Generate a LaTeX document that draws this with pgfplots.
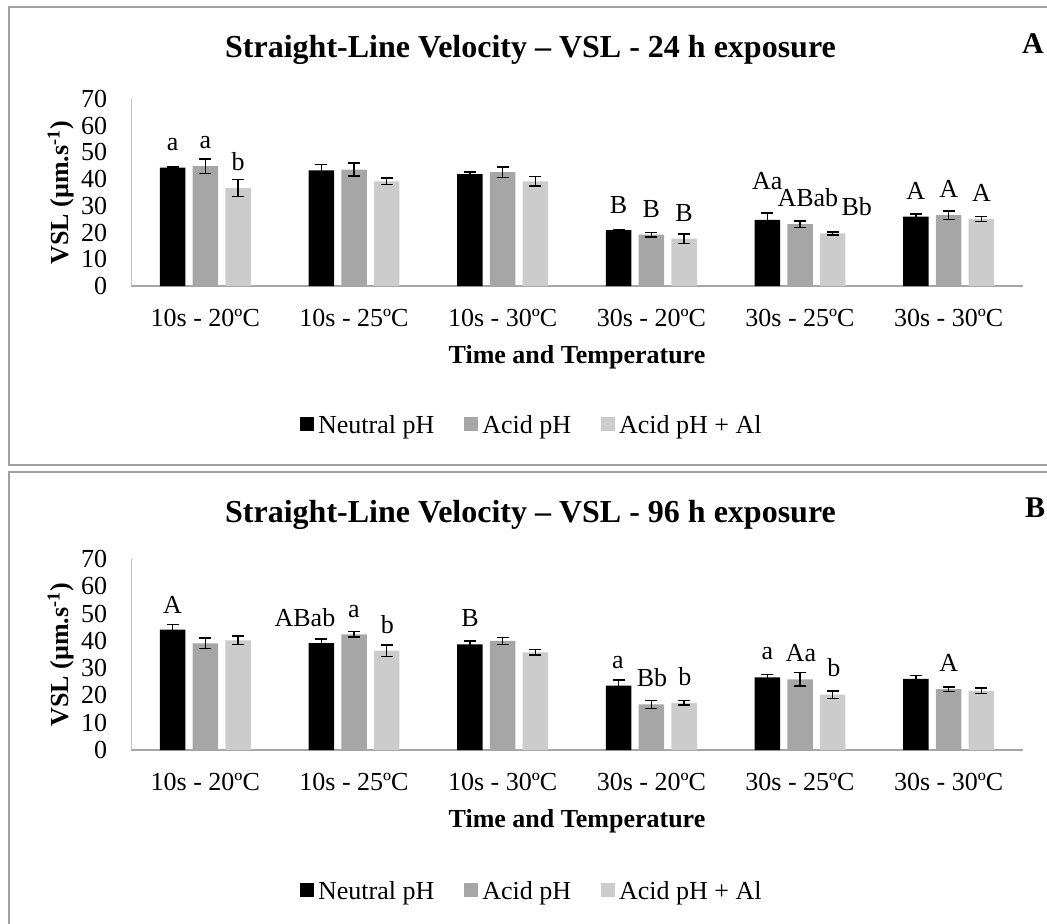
\documentclass[border=0pt]{standalone}
\usepackage{fontspec}
\setmainfont{Liberation Serif}
\usepackage{pgfplots}
\pgfplotsset{compat=1.18}
\definecolor{acid}{HTML}{A6A6A6}
\definecolor{acidal}{HTML}{CCCCCC}
\definecolor{framegray}{HTML}{A0A0A0}
\definecolor{axgray}{HTML}{A6A6A6}
\newcommand{\fs}{\fontsize{13}{15}\selectfont}
\pgfplotsset{
  sq legend/.style={legend image code/.code={\fill[##1] (0pt,-2.5pt) rectangle (7pt,4.5pt);}},
  barbase/.style={ybar, bar shift=0pt, bar width=12.75pt, draw=none, sq legend,
    error bars/y dir=both, error bars/y explicit,
    error bars/error bar style={black, line width=0.7pt},
    error bars/error mark options={black, rotate=90, mark size=3pt, line width=0.7pt}},
  vsl/.style={
    scale only axis, width=446pt,
    xmin=-0.5, xmax=5.5, ymin=0, ymax=70,
    axis lines=left, axis line style={-},
    x axis line style={draw=axgray, line width=0.7pt},
    y axis line style={draw=axgray!70, line width=0.5pt},
    xtick={0,1,2,3,4,5},
    xticklabels={10s - 20ºC, 10s - 25ºC, 10s - 30ºC, 30s - 20ºC, 30s - 25ºC, 30s - 30ºC},
    ytick={0,10,...,70},
    major tick length=0pt,
    tick label style={font=\fs},
    /pgf/number format/assume math mode=true,
    yticklabel style={anchor=east, inner sep=0pt, xshift=-11.75pt},
    xticklabel style={anchor=base, inner sep=0pt, yshift=-20pt},
    xlabel={Time and Temperature},
    ylabel={VSL (µm.s\textsuperscript{-1})},
    label style={font=\fs\bfseries},
    legend columns=3,
    legend style={draw=none, fill=none, font=\fs,
      /tikz/every even column/.append style={column sep=13pt}},
    clip=false,
  },
}
\begin{document}
\begin{tikzpicture}
\useasboundingbox (0,0) rectangle (523.5pt,-461.5pt);
% panel frames
\draw[framegray, line width=0.75pt] (540pt,-3.5pt) -- (4.5pt,-3.5pt) -- (4.5pt,-232.5pt) -- (540pt,-232.5pt);
\draw[framegray, line width=0.75pt] (540pt,-236pt) -- (4.5pt,-236pt) -- (4.5pt,-470pt);
% titles
\node[anchor=base, font=\fontsize{16}{19}\selectfont\bfseries] at (265.25pt,-28.5pt) {Straight-Line Velocity – VSL - 24 h exposure};
\node[anchor=base, font=\fontsize{15}{18}\selectfont\bfseries] at (516.5pt,-26.5pt) {A};
\node[anchor=base, font=\fontsize{16}{19}\selectfont\bfseries] at (265.25pt,-261pt) {Straight-Line Velocity – VSL - 96 h exposure};
\node[anchor=base, font=\fontsize{15}{18}\selectfont\bfseries] at (517.5pt,-258.5pt) {B};

% ---------- Panel A ----------
\begin{axis}[vsl, height=93.5pt, at={(65.5pt,-143pt)}, anchor=south west,
  xlabel style={at={(axis description cs:0.5,-0.417)}, anchor=base},
  ylabel style={at={(axis description cs:-0.0702,0.5)}, anchor=base},
  legend style={at={(axis description cs:0.4505,-0.749)}, anchor=center}]
\addplot[fill=black, barbase] coordinates {
  (-0.22,44.3) +- (0,0.3)
  (0.78,43.3) +- (0,2.25)
  (1.78,41.9) +- (0,0.8)
  (2.78,20.9) +- (0,0.3)
  (3.78,24.8) +- (0,2.6)
  (4.78,26.0) +- (0,0.9)
};
\addplot[fill=acid, barbase] coordinates {
  (0,44.9) +- (0,2.7)
  (1,43.6) +- (0,2.4)
  (2,42.6) +- (0,2.0)
  (3,19.2) +- (0,0.8)
  (4,23.2) +- (0,1.2)
  (5,26.5) +- (0,1.55)
};
\addplot[fill=acidal, barbase] coordinates {
  (0.22,36.7) +- (0,3.25)
  (1.22,39.2) +- (0,1.25)
  (2.22,39.2) +- (0,1.8)
  (3.22,17.7) +- (0,1.7)
  (4.22,19.7) +- (0,0.55)
  (5.22,25.1) +- (0,1.0)
};
\legend{Neutral pH, Acid pH, Acid pH + Al}
\begin{scope}[every node/.style={anchor=base, font=\fs, inner sep=0pt}]
\node at (axis cs:-0.22,50.7) {a};
\node at (axis cs:0,51.6) {a};
\node at (axis cs:0.22,43.4) {b};
\node at (axis cs:2.78,27.2) {B};
\node at (axis cs:3.0,25.7) {B};
\node at (axis cs:3.22,24.1) {B};
\node at (axis cs:3.78,36.0) {Aa};
\node at (axis cs:4.053,29.7) {ABab};
\node at (axis cs:4.382,26.3) {Bb};
\node at (axis cs:4.779,32.5) {A};
\node at (axis cs:5.0,33.2) {A};
\node at (axis cs:5.221,31.6) {A};
\end{scope}
\end{axis}

% ---------- Panel B ----------
\begin{axis}[vsl, height=95.5pt, at={(65.5pt,-375pt)}, anchor=south west,
  xlabel style={at={(axis description cs:0.5,-0.408)}, anchor=base},
  ylabel style={at={(axis description cs:-0.0702,0.5)}, anchor=base},
  legend style={at={(axis description cs:0.4505,-0.742)}, anchor=center}]
\addplot[fill=black, barbase] coordinates {
  (-0.22,44.1) +- (0,1.8)
  (0.78,39.2) +- (0,1.5)
  (1.78,38.7) +- (0,1.2)
  (2.78,23.6) +- (0,2.1)
  (3.78,26.6) +- (0,1.0)
  (4.78,26.1) +- (0,1.2)
};
\addplot[fill=acid, barbase] coordinates {
  (0,39.1) +- (0,2.0)
  (1,42.4) +- (0,1.0)
  (2,40.0) +- (0,1.3)
  (3,16.7) +- (0,1.5)
  (4,25.9) +- (0,2.5)
  (5,22.3) +- (0,0.85)
};
\addplot[fill=acidal, barbase] coordinates {
  (0.22,40.2) +- (0,1.6)
  (1.22,36.4) +- (0,2.1)
  (2.22,35.8) +- (0,1.0)
  (3.22,17.3) +- (0,0.8)
  (4.22,20.3) +- (0,1.35)
  (5.22,21.7) +- (0,1.0)
};
\legend{Neutral pH, Acid pH, Acid pH + Al}
\begin{scope}[every node/.style={anchor=base, font=\fs, inner sep=0pt}]
\node at (axis cs:-0.221,50.1) {A};
\node at (axis cs:0.670,45.4) {ABab};
\node at (axis cs:1.0,48.6) {a};
\node at (axis cs:1.225,42.7) {b};
\node at (axis cs:1.78,45.2) {B};
\node at (axis cs:2.775,29.9) {a};
\node at (axis cs:3.004,23.2) {Bb};
\node at (axis cs:3.226,23.8) {b};
\node at (axis cs:3.78,33.0) {a};
\node at (axis cs:4.006,32.4) {Aa};
\node at (axis cs:4.228,26.9) {b};
\node at (axis cs:5.0,28.7) {A};
\end{scope}
\end{axis}
\end{tikzpicture}
\end{document}
